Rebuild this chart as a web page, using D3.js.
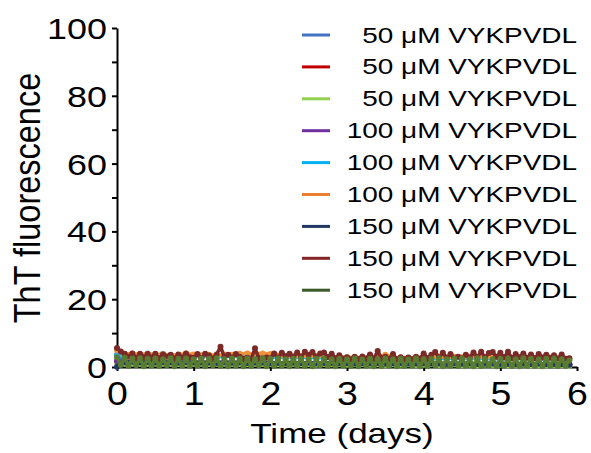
<!DOCTYPE html>
<html lang="en">
<head>
<meta charset="utf-8">
<title>ThT fluorescence</title>
<script src="https://cdn.jsdelivr.net/npm/d3@7"></script>
<style>
  body { margin: 0; background: #fff; }
  svg { display: block; font-family: "Liberation Sans", Arial, sans-serif; }
</style>
</head>
<body>
<script>

// ---- data ----

var labels = [
  "50 \u03bcM VYKPVDL", "50 \u03bcM VYKPVDL", "50 \u03bcM VYKPVDL",
  "100 \u03bcM VYKPVDL", "100 \u03bcM VYKPVDL", "100 \u03bcM VYKPVDL",
  "150 \u03bcM VYKPVDL", "150 \u03bcM VYKPVDL", "150 \u03bcM VYKPVDL"
];
var legendColors = ["#4472c4", "#c00000", "#92d050", "#7030a0", "#00b0f0", "#ed7d31", "#203864", "#842525", "#3b5a27"];
var plotColors   = ["#4472c4", "#c00000", "#92d050", "#7030a0", "#33b6e0", "#f0903c", "#203864", "#7b2a28", "#587c31"];

var yTicks = [0, 20, 40, 60, 80, 100];
var xTicks = [0, 1, 2, 3, 4, 5, 6];

// sample grids (days): fine = every 0.05 d, coarse = every 0.1 d
var fineDays = d3.range(119).map(function(i) { return +(i * 0.05).toFixed(2); });
var coarseDays = d3.range(60).map(function(i) { return +(i * 0.1).toFixed(1); });

var blue50 = [3.6, 1.6, 1.4, 1.3, 1.5, 1.2, 1.3, 1.4, 1.2, 1.3, 1.1, 1.2, 1.3, 1.1, 1.2, 1.0, 1.2, 1.1, 1.3, 1.1,
  1.0, 1.2, 1.1, 1.0, 1.1, 1.2, 1.0, 1.1, 0.9, 1.0, 1.1, 0.9, 1.0, 1.1, 0.9, 1.0, 0.9, 1.1, 1.0, 0.9,
  1.0, 1.1, 0.9, 1.0, 0.8, 1.0, 0.9, 0.8, 1.0, 0.9, 0.8, 0.9, 1.0, 0.8, 0.9, 0.7, 0.9, 0.8, 0.7, 0.8];
var red50 = [1.6, 1.3, 1.4, 1.2, 1.3, 1.4, 1.2, 1.3, 1.1, 1.3, 1.2, 1.3, 1.1, 1.2, 1.3, 1.1, 1.2, 1.0, 1.2, 1.1,
  1.2, 1.0, 1.1, 1.2, 1.0, 1.1, 0.9, 1.1, 1.0, 1.1, 0.9, 1.0, 1.1, 0.9, 1.0, 0.8, 1.0, 0.9, 1.0, 0.8,
  0.9, 1.0, 0.8, 0.9, 1.0, 0.8, 0.9, 0.7, 0.9, 0.8, 0.9, 0.7, 0.8, 0.9, 0.7, 0.8, 0.6, 0.8, 0.7, 0.6];
var lime50 = [1.4, 1.1, 1.2, 1.0, 1.1, 1.2, 1.0, 1.1, 0.9, 1.1, 1.0, 1.1, 0.9, 1.0, 1.1, 0.9, 1.0, 0.8, 1.0, 0.9,
  1.0, 0.8, 0.9, 1.0, 0.8, 0.9, 0.7, 0.9, 0.8, 0.9, 0.7, 0.8, 0.9, 0.7, 0.8, 0.6, 0.8, 0.7, 0.8, 0.6,
  0.7, 0.8, 0.6, 0.7, 0.8, 0.6, 0.7, 0.5, 0.7, 0.6, 0.7, 0.5, 0.6, 0.7, 0.5, 0.6, 0.5, 0.6, 0.5, 0.4];
var purple100 = [1.8, 1.5, 1.6, 1.4, 1.5, 1.6, 1.4, 1.5, 1.3, 1.5, 1.4, 1.5, 1.3, 1.4, 1.5, 1.3, 1.4, 1.2, 1.4, 1.3,
  1.4, 1.2, 1.3, 1.4, 1.2, 1.3, 1.1, 1.3, 1.2, 1.3, 1.1, 1.2, 1.3, 1.1, 1.2, 1.0, 1.2, 1.1, 1.2, 1.0,
  1.1, 1.2, 1.0, 1.1, 1.2, 1.0, 1.1, 0.9, 1.1, 1.0, 1.1, 0.9, 1.0, 1.1, 0.9, 1.0, 0.9, 1.0, 0.9, 0.8];
var cyan100 = [3.4, 3.3, 3.2, 3.4, 4.0, 3.4, 3.9, 3.2, 3.1, 3.2, 3.1, 3.0, 3.2, 3.1, 3.0, 3.2, 3.1, 3.3, 3.9, 3.0,
  2.9, 2.8, 2.9, 2.7, 2.8, 2.9, 2.7, 2.8, 2.6, 2.7, 2.5, 2.6, 2.4, 2.5, 2.6, 2.4, 2.5, 2.6, 2.4, 2.5,
  2.6, 2.5, 2.4, 2.6, 2.5, 2.4, 2.5, 2.6, 2.4, 2.5, 2.4, 2.5, 2.6, 2.4, 2.5, 2.3, 2.4, 2.5, 2.3, 2.2];
var orange100 = [5.0, 3.8, 4.0, 3.7, 3.9, 3.6, 3.8, 3.5, 3.6, 4.0, 3.7, 3.5, 3.6, 3.4, 3.7, 3.6, 3.9, 4.0, 3.9, 4.0,
  3.8, 3.4, 3.2, 3.3, 3.1, 3.4, 3.2, 3.3, 3.1, 3.0, 2.9, 2.8, 2.7, 3.0, 2.8, 3.6, 2.9, 2.8, 2.7, 2.8,
  3.0, 2.9, 3.1, 2.8, 3.0, 2.9, 3.1, 3.0, 2.9, 3.0, 2.9, 3.1, 3.0, 2.8, 2.9, 3.0, 2.8, 2.9, 2.7, 2.5];
var navy150 = [0.1, 1.4, 1.6, 1.4, 1.5, 1.3, 1.5, 1.4, 1.3, 1.5, 1.4, 1.3, 1.4, 1.2, 1.4, 1.3, 1.4, 1.2, 1.3, 1.4,
  1.2, 1.3, 1.1, 1.3, 1.2, 1.3, 1.1, 1.2, 1.3, 1.1, 1.2, 1.0, 1.2, 1.1, 1.2, 1.0, 1.1, 1.2, 1.0, 1.1,
  1.2, 1.0, 1.1, 0.9, 1.1, 1.0, 1.1, 0.9, 1.0, 1.1, 0.9, 1.0, 0.8, 1.0, 0.9, 1.0, 0.8, 0.9, 0.8, 0.7];
var brown150 = [5.6, 4.6, 3.9, 3.0, 4.0, 2.7, 3.9, 2.9, 3.8, 2.8, 3.9, 2.6, 3.7, 3.0, 3.6, 2.5, 3.7, 2.8, 4.0, 2.9,
  2.7, 3.8, 2.6, 3.9, 3.4, 2.5, 3.7, 6.0, 3.0, 3.6, 2.8, 3.8, 3.0, 2.4, 2.7, 2.3, 5.5, 2.6, 2.5, 2.8,
  2.6, 4.0, 2.7, 4.2, 3.2, 3.9, 2.9, 4.3, 3.0, 4.5, 3.6, 4.4, 3.0, 4.0, 4.3, 2.9, 3.9, 2.5, 3.5, 2.4,
  2.9, 2.3, 3.0, 2.3, 3.1, 2.5, 3.7, 2.4, 4.7, 2.6, 3.0, 2.4, 3.8, 2.3, 2.9, 2.3, 2.8, 2.3, 3.0, 2.4,
  4.0, 2.6, 3.6, 4.4, 2.8, 4.2, 2.7, 3.8, 2.5, 3.0, 2.6, 3.6, 2.7, 4.3, 2.9, 4.5, 2.8, 4.1, 4.4, 3.0,
  4.2, 2.8, 4.5, 2.6, 3.8, 2.9, 4.0, 2.7, 3.7, 2.6, 3.8, 2.8, 3.6, 2.7, 3.5, 2.5, 3.7, 2.4, 2.6];
var green150 = [2.9, 0.6, 2.7, 0.3, 2.5, 0.5, 2.6, 0.2, 2.4, 0.4, 2.5, 0.3, 2.3, 0.5, 2.6, 0.2, 2.4, 0.4, 2.5, 0.3,
  2.3, 0.4, 2.5, 0.2, 2.4, 0.5, 2.6, 0.3, 2.3, 0.2, 2.5, 0.4, 2.4, 0.2, 2.5, 0.3, 2.3, 0.5, 2.6, 0.2,
  2.4, 0.3, 2.5, 0.4, 2.3, 0.2, 2.4, 0.4, 2.5, 0.3, 2.3, 0.2, 2.4, 0.5, 2.5, 0.3, 2.2, 0.2, 2.4, 0.4,
  2.3, 0.3, 2.5, 0.2, 2.2, 0.4, 2.4, 0.2, 2.3, 0.3, 2.5, 0.4, 2.3, 0.2, 2.4, 0.3, 2.2, 0.4, 2.5, 0.2,
  2.3, 0.3, 2.4, 0.5, 2.6, 0.2, 2.3, 0.4, 2.4, 0.3, 2.5, 0.4, 2.3, 0.2, 2.6, 0.3, 2.4, 0.5, 2.3, 0.2,
  2.4, 0.4, 2.5, 0.3, 2.3, 0.2, 2.6, 0.4, 2.4, 0.3, 2.3, 0.2, 2.4, 0.4, 2.5, 0.3, 2.3, 0.4, 1.9];

var seriesValues = [blue50, red50, lime50, purple100, cyan100, orange100, navy150, brown150, green150];
var seriesDays   = [coarseDays, coarseDays, coarseDays, coarseDays, coarseDays, coarseDays, coarseDays, fineDays, fineDays];

// ---- canvas ----

var w = 591;
var h = 453;
var plotLeft = 117, plotRight = 577, plotTop = 28, plotBottom = 367;

var svg = d3.select("body").append("svg")
  .attr("width", w)
  .attr("height", h);

svg.append("rect").attr("width", w).attr("height", h).attr("fill", "#fff");

var x = d3.scaleLinear().domain([0, 6]).range([plotLeft, plotRight]);
var y = d3.scaleLinear().domain([0, 100]).range([plotBottom, plotTop]);

// y axis: ticks every 10, labels every 20
var yAxis = svg.append("g")
  .attr("transform", "translate(" + plotLeft + ",0)")
  .call(d3.axisLeft(y).tickValues(d3.range(0, 101, 10)).tickSize(5).tickSizeOuter(0)
    .tickFormat(function(d) { return yTicks.indexOf(d) >= 0 ? d : ""; }));
yAxis.selectAll("path, line").attr("stroke", "#000").attr("stroke-width", 2);
yAxis.selectAll("text")
  .attr("x", null).attr("dy", null)
  .attr("transform", "translate(-10,10.5) scale(1.24,1)")
  .attr("font-size", 29).attr("font-family", "Liberation Sans, Arial, sans-serif")
  .attr("fill", "#000");

// x axis
var xAxis = svg.append("g")
  .attr("transform", "translate(0," + plotBottom + ")")
  .call(d3.axisBottom(x).tickValues(xTicks).tickSize(4).tickSizeOuter(0).tickFormat(d3.format("d")));
xAxis.selectAll("path, line").attr("stroke", "#000").attr("stroke-width", 2);
xAxis.selectAll("text")
  .attr("y", null).attr("dy", null)
  .attr("transform", "translate(0,38) scale(1.1,1)")
  .attr("font-size", 34).attr("font-family", "Liberation Sans, Arial, sans-serif")
  .attr("fill", "#000");

// axis titles
svg.append("text")
  .attr("transform", "translate(342,443) scale(1.25,1)")
  .attr("text-anchor", "middle")
  .attr("font-size", 28)
  .text("Time (days)");

svg.append("text")
  .attr("transform", "translate(40,198) rotate(-90) scale(1,1.12)")
  .attr("text-anchor", "middle")
  .attr("font-size", 32.5)
  .text("ThT fluorescence");

// ---- series ----

var line = d3.line()
  .x(function(d) { return x(d[0]); })
  .y(function(d) { return y(d[1]); });

seriesValues.forEach(function(vals, s) {
  var pts = vals.map(function(v, i) { return [seriesDays[s][i], v]; });
  var g = svg.append("g");
  g.append("path")
    .datum(pts)
    .attr("d", line)
    .attr("fill", "none")
    .attr("stroke", plotColors[s])
    .attr("stroke-width", 3.5)
    .attr("stroke-linejoin", "round");
  g.selectAll("circle")
    .data(pts)
    .enter()
    .append("circle")
    .attr("cx", function(d) { return x(d[0]); })
    .attr("cy", function(d) { return y(d[1]); })
    .attr("r", 3)
    .attr("fill", plotColors[s]);
});

// ---- legend ----

var legend = svg.selectAll("g.legend")
  .data(labels)
  .enter()
  .append("g")
  .attr("class", "legend")
  .attr("transform", function(d, i) { return "translate(0," + (35 + i * 31.9) + ")"; });

legend.append("line")
  .attr("x1", 302).attr("x2", 330)
  .attr("stroke", function(d, i) { return legendColors[i]; })
  .attr("stroke-width", 3);

legend.append("text")
  .attr("transform", "translate(577,7.5) scale(1.27,1)")
  .attr("text-anchor", "end")
  .attr("font-size", 22)
  .text(function(d) { return d; });

</script>
</body>
</html>
